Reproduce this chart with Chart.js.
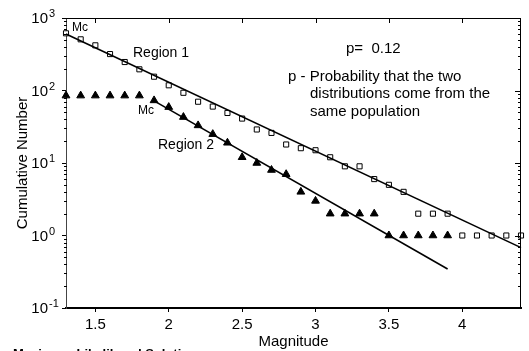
<!DOCTYPE html>
<html lang="en">
<head>
<meta charset="UTF-8">
<title>Cumulative Number vs Magnitude</title>
<script src="https://cdn.jsdelivr.net/npm/chart.js"></script>
<style>
    html, body { margin: 0; padding: 0; background: #fff; }
    .wrap { position: relative; width: 529px; height: 351px; }
</style>
</head>
<body>
<div class="wrap"><canvas id="grChart"></canvas></div>
<script>
// Region 1 (open squares)
const magnitudes1 = [1.3, 1.4, 1.5, 1.6, 1.7, 1.8, 1.9, 2.0, 2.1, 2.2, 2.3, 2.4, 2.5, 2.6, 2.7, 2.8,
                     2.9, 3.0, 3.1, 3.2, 3.3, 3.4, 3.5, 3.6, 3.7, 3.8, 3.9, 4.0, 4.1, 4.2, 4.3, 4.4];
const counts1 = [615, 508, 420, 318, 247, 196, 155, 118, 93, 70, 60, 49, 41, 29, 26, 18,
                 16, 15, 12, 9, 9, 6, 5, 4, 2, 2, 2, 1, 1, 1, 1, 1];

// Region 2 (filled triangles)
const magnitudes2 = [1.3, 1.4, 1.5, 1.6, 1.7, 1.8, 1.9, 2.0, 2.1, 2.2, 2.3, 2.4, 2.5, 2.6,
                     2.7, 2.8, 2.9, 3.0, 3.1, 3.2, 3.3, 3.4, 3.5, 3.6, 3.7, 3.8, 3.9];
const counts2 = [85, 85, 85, 85, 85, 85, 73, 59, 43, 33, 25, 19, 12, 10,
                 8, 7, 4, 3, 2, 2, 2, 2, 1, 1, 1, 1, 1];

// fitted G-R lines (end points)
const fit1Mag = [1.3, 4.4];
const fit1Count = [600, 0.68];
const fit2Mag = [1.9, 3.9];
const fit2Count = [72, 0.345];

// axes
const xTickValues = [1.5, 2, 2.5, 3, 3.5, 4];
const yDecades = [0.1, 1, 10, 100, 1000];
const yExponents = ['-1', '0', '1', '2', '3'];

const pts = (xs, ys) => xs.map((x, i) => ({ x: x, y: ys[i] }));

function isDecade(v) {
    const l = Math.log10(v);
    return Math.abs(l - Math.round(l)) < 1e-9;
}

// frame, extra ticks, y labels and annotation text
const decorPlugin = {
    id: 'decor',
    afterDraw(chart) {
        const ctx = chart.ctx;
        const a = chart.chartArea;
        const xs = chart.scales.x;
        const ys = chart.scales.y;
        ctx.save();
        ctx.strokeStyle = '#000';
        ctx.lineWidth = 1;
        ctx.beginPath();
        ctx.moveTo(a.left, a.top + 0.5);
        ctx.lineTo(a.right, a.top + 0.5);
        ctx.moveTo(a.right - 0.5, a.top);
        ctx.lineTo(a.right - 0.5, a.bottom);
        // top ticks (inward)
        xTickValues.forEach(v => {
            const px = Math.round(xs.getPixelForValue(v)) + 0.5;
            ctx.moveTo(px, a.top);
            ctx.lineTo(px, a.top + 5);
        });
        // right ticks (inward) and left minor ticks
        ys.ticks.forEach(t => {
            const py = Math.round(ys.getPixelForValue(t.value)) + 0.5;
            const len = isDecade(t.value) ? 6 : 3;
            ctx.moveTo(a.right, py);
            ctx.lineTo(a.right - len, py);
            if (!isDecade(t.value)) {
                ctx.moveTo(a.left - 2, py);
                ctx.lineTo(a.left + 1, py);
            }
        });
        ctx.stroke();

        // y tick labels as 10^n
        ctx.fillStyle = '#000';
        yDecades.forEach((v, i) => {
            const py = ys.getPixelForValue(v);
            ctx.font = '15px Arial, "Liberation Sans", sans-serif';
            ctx.textAlign = 'right';
            ctx.textBaseline = 'middle';
            ctx.fillText('10', 48, py + 1);
            ctx.font = '11px Arial, "Liberation Sans", sans-serif';
            ctx.textAlign = 'left';
            ctx.fillText(yExponents[i], 49, py - 4);
        });

        // annotations
        ctx.textBaseline = 'middle';
        ctx.textAlign = 'left';
        ctx.font = '12px Arial, "Liberation Sans", sans-serif';
        ctx.fillText('Mc', 72, 28);
        ctx.fillText('Mc', 138, 111);
        ctx.font = '14px Arial, "Liberation Sans", sans-serif';
        ctx.fillText('Region 1', 133, 53);
        ctx.fillText('Region 2', 158, 145);
        ctx.font = '15px Arial, "Liberation Sans", sans-serif';
        ctx.fillText('p=  0.12', 346, 49);
        ctx.fillText('p - Probability that the two', 288, 77);
        ctx.fillText('distributions come from the', 310, 94);
        ctx.fillText('same population', 310, 112);

        // caption cut off at the bottom of the picture
        ctx.font = 'bold 13px Arial, "Liberation Sans", sans-serif';
        ctx.textBaseline = 'alphabetic';
        ctx.fillText('Maximum Likelihood Solution', 13, 357.5);
        ctx.restore();
    }
};

const ctx = document.getElementById('grChart').getContext('2d');
const grChart = new Chart(ctx, {
    type: 'scatter',
    data: {
        datasets: [
            {
                label: 'Fit Region 1',
                type: 'line',
                data: pts(fit1Mag, fit1Count),
                borderColor: '#000',
                borderWidth: 1.6,
                pointRadius: 0,
                fill: false,
                order: 1,
                clip: false
            },
            {
                label: 'Fit Region 2',
                type: 'line',
                data: pts(fit2Mag, fit2Count),
                borderColor: '#000',
                borderWidth: 1.6,
                pointRadius: 0,
                fill: false,
                order: 1
            },
            {
                label: 'Region 1',
                data: pts(magnitudes1, counts1),
                pointStyle: 'rect',
                pointRadius: 3.6,
                backgroundColor: '#fff',
                borderColor: '#000',
                borderWidth: 1,
                order: 2,
                clip: false
            },
            {
                label: 'Region 2',
                data: pts(magnitudes2, counts2),
                pointStyle: 'triangle',
                pointRadius: 4.5,
                backgroundColor: '#000',
                borderColor: '#000',
                borderWidth: 1,
                order: 2,
                clip: false
            }
        ]
    },
    options: {
        responsive: true,
        maintainAspectRatio: false,
        animation: false,
        layout: { padding: { top: 18, right: 8, left: 0, bottom: 0 } },
        plugins: {
            legend: { display: false },
            tooltip: { enabled: false }
        },
        scales: {
            x: {
                type: 'linear',
                min: 1.3,
                max: 4.4,
                afterBuildTicks: s => { s.ticks = xTickValues.map(v => ({ value: v })); },
                afterFit: s => { s.height = 43; },
                ticks: {
                    autoSkip: false,
                    maxRotation: 0,
                    padding: 4,
                    color: '#000',
                    font: { family: 'Arial, "Liberation Sans", sans-serif', size: 15 },
                    callback: v => String(v)
                },
                grid: { drawOnChartArea: false, drawTicks: true, tickLength: 4, tickColor: '#000', tickWidth: 1 },
                border: { display: true, color: '#000', width: 2 },
                title: {
                    display: true,
                    text: 'Magnitude',
                    color: '#000',
                    font: { family: 'Arial, "Liberation Sans", sans-serif', size: 15 },
                    padding: { top: 0, bottom: 0 }
                }
            },
            y: {
                type: 'logarithmic',
                min: 0.1,
                max: 1000,
                afterBuildTicks: s => {
                    const t = [];
                    yDecades.forEach(d => {
                        if (d >= 1000) { t.push({ value: d }); return; }
                        for (let m = 1; m <= 9; m++) t.push({ value: +(d * m).toPrecision(6) });
                    });
                    s.ticks = t;
                },
                afterFit: s => { s.width = 66; },
                ticks: {
                    autoSkip: false,
                    color: '#000',
                    font: { family: 'Arial, "Liberation Sans", sans-serif', size: 15 },
                    callback: () => ''
                },
                grid: {
                    drawOnChartArea: false,
                    drawTicks: true,
                    tickLength: 4,
                    tickWidth: 1,
                    tickColor: c => (c.tick && isDecade(c.tick.value)) ? '#000' : 'rgba(0,0,0,0)'
                },
                border: { display: true, color: '#444', width: 1 },
                title: {
                    display: true,
                    text: 'Cumulative Number',
                    color: '#000',
                    font: { family: 'Arial, "Liberation Sans", sans-serif', size: 15 },
                    padding: { top: 14, bottom: 0 }
                }
            }
        }
    },
    plugins: [decorPlugin]
});
</script>
</body>
</html>
